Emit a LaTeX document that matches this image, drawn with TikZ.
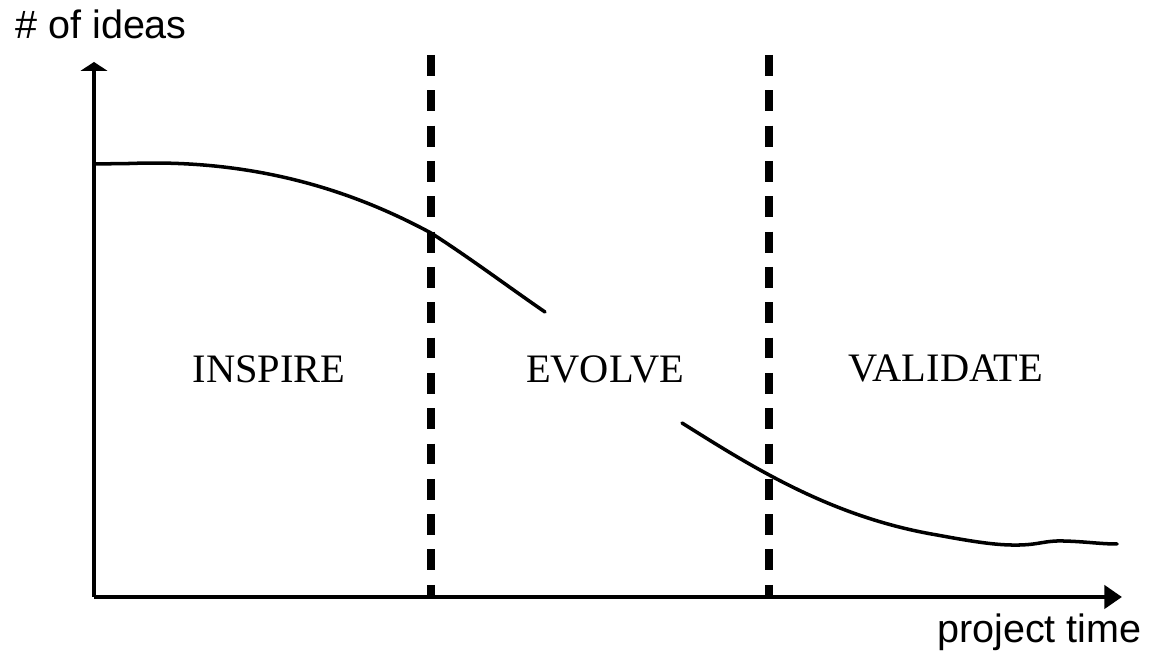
\documentclass[tikz,border=0pt]{standalone}
\usepackage{fontspec}
\setmainfont{Liberation Serif}
\newfontfamily\axisfont{Liberation Sans}
\usetikzlibrary{arrows.meta}

\begin{document}
\begin{tikzpicture}[
  x=1cm, y=1cm,
  axis/.style={line width=2.8pt, black},
  curve/.style={line width=2pt, black, line cap=round},
  border/.style={line width=4.6pt, black, dash pattern=on 11.9pt off 8.2pt},
  axislabel/.style={font=\axisfont\fontsize{22.5}{27}\selectfont, inner sep=0pt},
  phase/.style={font=\fontsize{23}{27}\selectfont, inner sep=0pt, anchor=base}]
\useasboundingbox (0,0) rectangle (23,13.06);

% ---- axes ---------------------------------------------------------------
\coordinate (O)    at ( 1.88, 1.12);
\coordinate (ytop) at ( 1.88,11.82);
\coordinate (xend) at (22.44, 1.12);
\draw[axis, -{Triangle[length=5pt,width=15pt]}] (O)--(ytop);
\draw[axis, -{Triangle[length=10pt,width=13pt]}] (O)--(xend);
\node[axislabel, anchor=base west] (ideas) at (0.30,12.28) {\# of ideas};
\node[axislabel, anchor=base east] (time)  at (22.84,0.20) {project time};

% ---- the two borders between the phases -------------------------------
\coordinate (b1top) at ( 8.62,11.96);
\coordinate (b1bot) at ( 8.62, 1.12);
\coordinate (b2top) at (15.38,11.96);
\coordinate (b2bot) at (15.38, 1.12);
\draw[border] (b1top)--(b1bot) (b2top)--(b2bot);

% ---- the number of ideas, broken round the middle phase ---------------
\draw[curve] (O |- 0,9.78) -- (2.60,9.79)
  .. controls (5.50,9.90) and (7.50,9.00) .. (8.62,8.40)
  .. controls (9.40,7.90) and (10.20,7.30) .. (10.90,6.82);
\draw[curve] (13.64,4.60)
  .. controls (15.00,3.75) and (16.60,2.72) .. (18.74,2.36)
  .. controls (19.60,2.20) and (20.00,2.15) .. (20.40,2.16)
  .. controls (20.80,2.17) and (20.90,2.25) .. (21.26,2.24)
  .. controls (21.70,2.23) and (22.00,2.18) .. (22.34,2.18);

% ---- phase names --------------------------------------------------------
\node[phase] (inspire)  at ( 5.38,5.40) {INSPIRE};
\node[phase] (evolve)   at (12.10,5.40) {EVOLVE};
\node[phase] (validate) at (18.92,5.42) {VALIDATE};
\end{tikzpicture}
\end{document}
